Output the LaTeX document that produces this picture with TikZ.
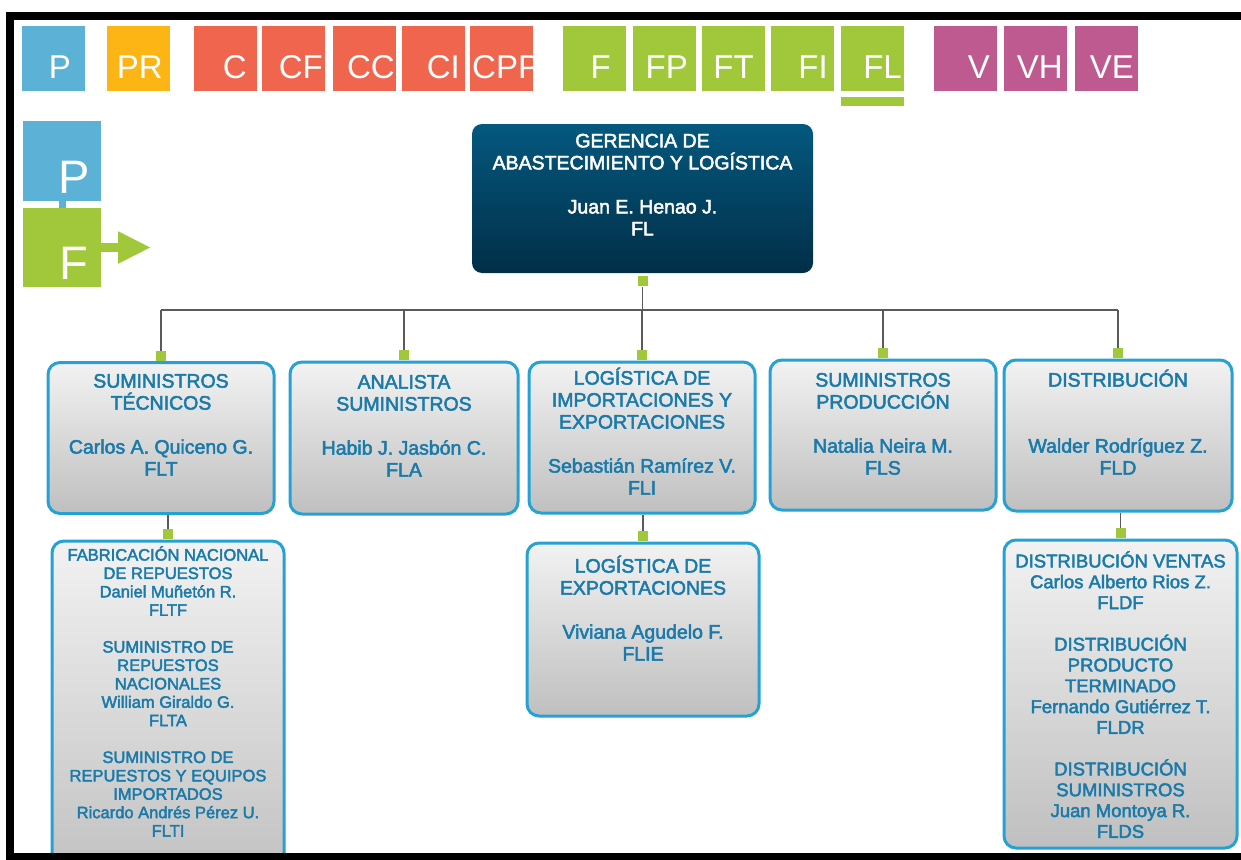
\documentclass[tikz,border=0pt]{standalone}
\usepackage{fontspec}
\setmainfont{Liberation Sans}
\newfontfamily\boxfont{Liberation Sans}[FakeBold=2.5]
\usetikzlibrary{positioning,arrows.meta}

\definecolor{legblue}{HTML}{5BB2D6}
\definecolor{legorange}{HTML}{FDB515}
\definecolor{legred}{HTML}{F0654D}
\definecolor{leggreen}{HTML}{A0C83A}
\definecolor{legmag}{HTML}{BE5A8F}
\definecolor{unitline}{HTML}{25A2D3}
\definecolor{unittext}{HTML}{1A7AAA}
\definecolor{headtop}{HTML}{04587F}
\definecolor{headbot}{HTML}{022E47}
\definecolor{wiregray}{HTML}{5A5A5A}

% first line of a box text: height of a capital, accents ignored
\newcommand\firstln[1]{\smash{#1}\vphantom{A}}

\begin{document}
\begin{tikzpicture}[x=1pt,y=-1pt]
    \tikzstyle{legsq}=[rectangle, inner sep=0, minimum width=63, minimum height=65]
    \tikzstyle{legtxt}=[inner sep=0, text=white, font=\fontsize{33}{33}\selectfont]
    \tikzstyle{bigtxt}=[inner sep=0, text=white, font=\fontsize{47}{47}\selectfont]
    \tikzstyle{head}=[rectangle, rounded corners=10, top color=headtop, bottom color=headbot, minimum width=341, minimum height=149]
    \tikzstyle{unit}=[rectangle, rounded corners=12, draw=unitline, line width=3, top color=black!5, bottom color=black!25, inner sep=0]
    \tikzstyle{txt}=[inner sep=0, align=center, text=unittext, font=\boxfont\fontsize{19.5}{22}\selectfont]
    \tikzstyle{htxt}=[txt, text=white]
    \tikzstyle{smalltxt}=[txt, font=\boxfont\fontsize{16.5}{18.4}\selectfont]
    \tikzstyle{midtxt}=[txt, font=\boxfont\fontsize{18.5}{20.8}\selectfont]
    \tikzstyle{port}=[rectangle, fill=leggreen, inner sep=0, minimum size=10]
    \tikzstyle{wire}=[draw=wiregray, line width=1.3]
    \useasboundingbox (0,0) rectangle (1241,859);

    % legend row
    \foreach \x/\t/\c/\r in {22/P/legblue/49, 107/PR/legorange/56, 194/C/legred/53, 262/CF/legred/61, 333/CC/legred/62, 402/CI/legred/58,
        563/F/leggreen/48, 633/FP/leggreen/55, 702/FT/leggreen/52, 771/FI/leggreen/57, 841/FL/leggreen/61,
        934/V/legmag/56, 1004/VH/legmag/59, 1075/VE/legmag/59}{
      \node[legsq, fill=\c] (lg-\t) at (\x+31.5,58.5) {};
      \node[legtxt, anchor=base east] (lgt-\t) at (\x+\r,78) {\t};
    }
    \begin{scope}
      \clip (470,26) rectangle (533,91);
      \node[legsq, fill=legred] (lg-CPP) at (501.5,58.5) {};
      \node[legtxt, anchor=base west] (lgt-CPP) at (472,78) {CPP};
    \end{scope}
    \node[legsq, fill=leggreen, minimum height=9, below=6pt of lg-FL] (lg-FLbar) {};

    % legend P -> F
    \node[rectangle, inner sep=0, fill=legblue, minimum width=78, minimum height=80] (lgP) at (62,161) {};
    \node[rectangle, inner sep=0, fill=leggreen, minimum width=78, minimum height=79] (lgF) at (62,247.5) {};
    \coordinate (lgtip) at (151,247.5);
    \draw[legblue, line width=7] (lgP) -- (lgF);
    \draw[leggreen, line width=9, -{Triangle[length=33pt,width=30pt]}] (lgF) -- (lgtip);
    \node[bigtxt, anchor=base east] (lgPt) at (90,193) {P};
    \node[bigtxt, anchor=base east] (lgFt) at (88,279) {F};

    % chart
    \node[head] (gal) at (642.5,198.5) {};
    \node[htxt, below=10pt of gal.north] (gal-t) {\firstln{GERENCIA DE}\\ABASTECIMIENTO Y LOGÍSTICA\\[22pt]Juan E. Henao J.\\FL};

    \node[unit, minimum width=226, minimum height=151] (tec) at (161,438) {};
    \node[unit, minimum width=228, minimum height=152] (ana) at (404,438) {};
    \node[unit, minimum width=226, minimum height=151] (imp) at (642,437.5) {};
    \node[unit, minimum width=226, minimum height=150] (pro) at (883,435) {};
    \node[unit, minimum width=228, minimum height=151] (dis) at (1118,435.5) {};
    \node[txt, below=13pt of tec.north] (tec-t) {\firstln{SUMINISTROS}\\TÉCNICOS\\[22pt]Carlos A. Quiceno G.\\FLT};
    \node[txt, below=14.5pt of ana.north] (ana-t) {\firstln{ANALISTA}\\SUMINISTROS\\[22pt]Habib J. Jasbón C.\\FLA};
    \node[txt, below=10.5pt of imp.north] (imp-t) {\firstln{LOGÍSTICA DE}\\IMPORTACIONES Y\\EXPORTACIONES\\[22pt]Sebastián Ramírez V.\\FLI};
    \node[txt, below=14.5pt of pro.north] (pro-t) {\firstln{SUMINISTROS}\\PRODUCCIÓN\\[22pt]Natalia Neira M.\\FLS};
    \node[txt, below=14.5pt of dis.north] (dis-t) {\firstln{DISTRIBUCIÓN}\\[44pt]Walder Rodríguez Z.\\FLD};

    \node[unit, minimum width=232, minimum height=350] (fab) at (168,716) {};
    \node[unit, minimum width=232, minimum height=173] (exp) at (643,629.5) {};
    \node[unit, minimum width=233, minimum height=308] (dvt) at (1120.5,694) {};
    \node[smalltxt, below=9.5pt of fab.north] (fab-t) {\firstln{FABRICACIÓN NACIONAL}\\DE REPUESTOS\\Daniel Muñetón R.\\FLTF\\[18.4pt]SUMINISTRO DE\\REPUESTOS\\NACIONALES\\William Giraldo G.\\FLTA\\[18.4pt]SUMINISTRO DE\\REPUESTOS Y EQUIPOS\\IMPORTADOS\\Ricardo Andrés Pérez U.\\FLTI};
    \node[txt, below=17.5pt of exp.north] (exp-t) {\firstln{LOGÍSTICA DE}\\EXPORTACIONES\\[22pt]Viviana Agudelo F.\\FLIE};
    \node[midtxt, below=16pt of dvt.north] (dvt-t) {\firstln{DISTRIBUCIÓN VENTAS}\\Carlos Alberto Rios Z.\\FLDF\\[20.8pt]DISTRIBUCIÓN\\PRODUCTO\\TERMINADO\\Fernando Gutiérrez T.\\FLDR\\[20.8pt]DISTRIBUCIÓN\\SUMINISTROS\\Juan Montoya R.\\FLDS};

    % ports and wires
    \node[port, below=3pt of gal] (gal-p) {};
    \foreach \n in {tec,ana,imp,pro,dis,fab,exp,dvt}
      \node[port, above=0pt of \n] (\n-p) {};
    \coordinate (bus) at (0,310);
    \draw[wire] (gal-p) -- (gal-p |- bus);
    \draw[wire] (tec-p |- bus) -- (dis-p |- bus);
    \foreach \n in {tec,ana,imp,pro,dis}
      \draw[wire] (\n-p |- bus) -- (\n-p);
    \draw[wire] (fab-p |- tec.south) -- (fab-p);
    \draw[wire] (exp-p |- imp.south) -- (exp-p);
    \draw[wire] (dvt-p |- dis.south) -- (dvt-p);

    % frame
    \draw[line width=8, line join=miter] (1260,16) -- (10,16) -- (10,857) -- (1260,857);
\end{tikzpicture}
\end{document}
